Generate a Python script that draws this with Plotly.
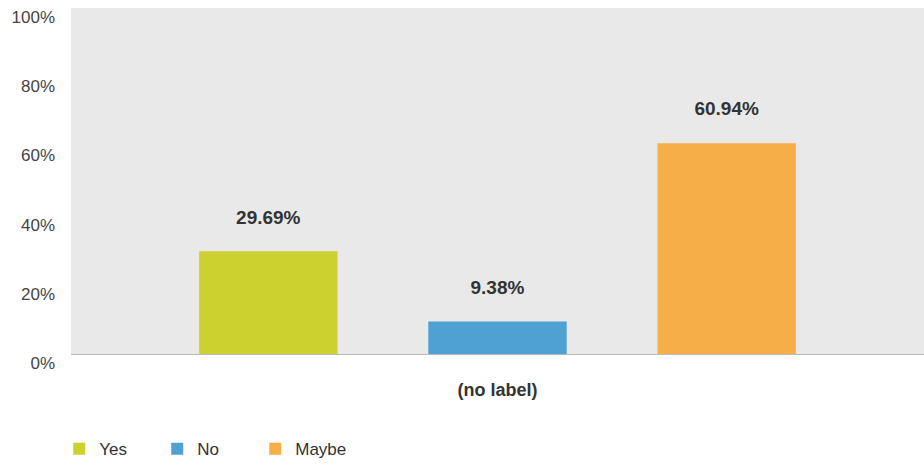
import plotly.graph_objects as go

category = ["(no label)"]
series_names = ["Yes", "No", "Maybe"]
series_values = [29.69, 9.38, 60.94]
series_colors = ["#ccd12f", "#4fa0d3", "#f6ae48"]
y_ticks = [0, 20, 40, 60, 80, 100]
y_tick_text = ["0%", "20%", "40%", "60%", "80%", "100%"]

fig = go.Figure()
for name, val, col in zip(series_names, series_values, series_colors):
    fig.add_trace(go.Bar(
        name=name, x=category, y=[val],
        marker=dict(color=col, line=dict(width=0)),
        texttemplate="%{y:.2f}%<br><span style='font-size:2px'> </span>",
        textposition="outside",
        textfont=dict(family="Liberation Sans", size=19, color="#333333", weight="bold"),
        cliponaxis=False,
    ))

fig.update_layout(
    width=924, height=467,
    margin=dict(l=71, r=0, t=8, b=113, autoexpand=False),
    paper_bgcolor="white",
    plot_bgcolor="#e9e9e9",
    barmode="group",
    bargap=0.194,
    bargroupgap=0.396,
    font=dict(family="Liberation Sans", color="#444444"),
    showlegend=True,
    legend=dict(
        orientation="h", x=-0.0138, xanchor="left", y=-0.275, yanchor="middle",
        font=dict(size=17, color="#333333"),
        entrywidth=53, entrywidthmode="pixels",
    ),
    yaxis=dict(
        range=[0, 100], tickvals=y_ticks, ticktext=y_tick_text,
        showgrid=False, zeroline=False, automargin=False,
        tickfont=dict(size=17, color="#444444"),
        ticklabelstandoff=15,
        ticklabelshift=9,
        ticklabeloverflow="allow",
    ),
    xaxis=dict(
        showline=True, linecolor="#bbbbbb", linewidth=1, automargin=False,
        tickfont=dict(size=18, color="#333333", weight="bold"),
        ticklabelstandoff=19,
    ),
)

fig.write_html(
    "out.html",
    config={"displayModeBar": False},
    post_script="document.body.style.margin='0';document.body.style.overflow='hidden';",
)
